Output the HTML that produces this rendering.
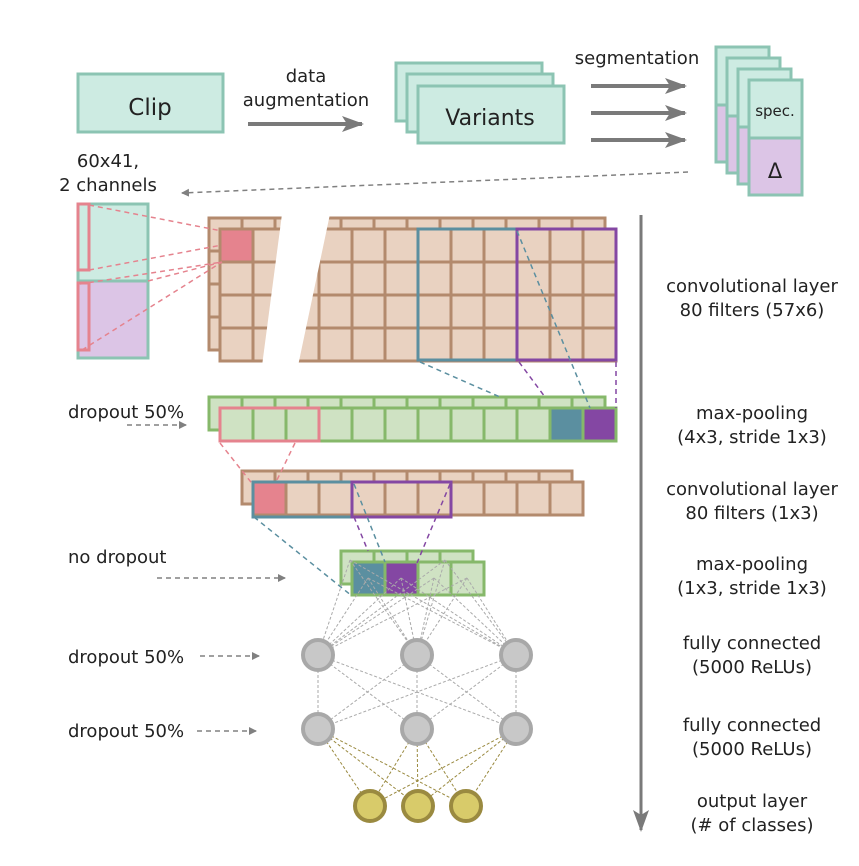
<!DOCTYPE html>
<html><head><meta charset="utf-8"><style>
html,body{margin:0;padding:0;background:#fff;}
svg{display:block;font-family:"DejaVu Sans","Liberation Sans",sans-serif;}
</style></head><body>
<svg id="s" width="859" height="866" viewBox="0 0 859 866" xmlns="http://www.w3.org/2000/svg">
<defs>
<marker id="ah" markerWidth="8" markerHeight="8" refX="7" refY="4" orient="auto" markerUnits="userSpaceOnUse"><path d="M0,0 L8,4 L0,8 z" fill="#808080"/></marker>
<marker id="ahb" markerWidth="22" markerHeight="16" refX="20" refY="8" orient="auto" markerUnits="userSpaceOnUse"><path d="M0,0 L22,8 L0,16 L5,8 z" fill="#7a7a7a"/></marker>
</defs>
<g id="g"></g>
<g fill="#222" font-size="18" text-anchor="middle">
<text x="150" y="115" font-size="23">Clip</text>
<text x="306" y="82">data</text>
<text x="306" y="106">augmentation</text>
<text x="490" y="125" font-size="22">Variants</text>
<text x="637" y="64">segmentation</text>
<text x="775" y="116" font-size="15">spec.</text>
<text x="775" y="178" font-size="21">Δ</text>
<text x="108" y="167">60x41,</text>
<text x="108" y="191">2 channels</text>
<text x="752" y="292">convolutional layer</text>
<text x="752" y="316">80 filters (57x6)</text>
<text x="752" y="419">max-pooling</text>
<text x="752" y="443">(4x3, stride 1x3)</text>
<text x="752" y="495">convolutional layer</text>
<text x="752" y="519">80 filters (1x3)</text>
<text x="752" y="570">max-pooling</text>
<text x="752" y="594">(1x3, stride 1x3)</text>
<text x="752" y="649">fully connected</text>
<text x="752" y="673">(5000 ReLUs)</text>
<text x="752" y="731">fully connected</text>
<text x="752" y="755">(5000 ReLUs)</text>
<text x="752" y="807">output layer</text>
<text x="752" y="831">(# of classes)</text>
</g>
<g fill="#222" font-size="18">
<text x="68" y="418">dropout 50%</text>
<text x="68" y="563">no dropout</text>
<text x="68" y="663">dropout 50%</text>
<text x="68" y="737">dropout 50%</text>
</g>
</svg>
<script>
var g=document.getElementById('g'),h='';
function R(x,y,w,hh,f,s,sw){h+='<rect x="'+x+'" y="'+y+'" width="'+w+'" height="'+hh+'" fill="'+f+'" stroke="'+s+'" stroke-width="'+(sw||3)+'"/>';}
function L(a,b,c,d,s,sw,da,m){h+='<line x1="'+a+'" y1="'+b+'" x2="'+c+'" y2="'+d+'" stroke="'+s+'" stroke-width="'+(sw||1.5)+'"'+(da?' stroke-dasharray="'+da+'"':'')+(m?' marker-end="url(#'+m+')"':'')+'/>';}
function C(x,y,f,s){h+='<circle cx="'+x+'" cy="'+y+'" r="15" fill="'+f+'" stroke="'+s+'" stroke-width="4"/>';}
var T='#cdebe2',TS='#8cc4b3',P='#dcc5e6',BR='#e9d2c1',BS='#b38a6d',GF='#cfe2c3',GS='#86b86a',PK='#e5838e',TL='#5b8fa0',PU='#8447a3';
R(78,74,145,58,T,TS);
L(248,124,362,124,'#7a7a7a',4,null,'ahb');
R(396,63,146,58,T,TS);R(407,74,146,58,T,TS);R(418,86,146,57,T,TS);
[86,113,140].forEach(function(y){L(591,y,685,y,'#7a7a7a',4,null,'ahb');});
for(var i=0;i<4;i++){var x=716+i*11,y=47+i*11;R(x,y,53,58,T,TS);R(x,y+58,53,57,P,TS);}
L(688,172,182,193,'#808080',1.5,'5,4','ah');
R(78,204,70,77,T,TS);R(78,281,70,77,P,TS);
R(78,204,11,66,'none',PK);R(78,283,11,67,'none',PK);
function grid(x0,y0,cols,rows,f,s){for(var r=0;r<rows;r++)for(var c=0;c<cols;c++)R(x0+c*33,y0+r*33,33,33,f,s);}
grid(209,218,12,4,BR,BS);grid(220,229,12,4,BR,BS);
R(220,229,33,33,PK,BS);
h+='<polygon points="282,214 330,214 298,366 262,366" fill="#fff"/>';
R(418,229,99,131,'none',TL);R(517,229,99,131,'none',PU);
L(89,205,222,231,PK,1.5,'5,4');L(89,270,222,245,PK,1.5,'5,4');L(80,284,222,262,PK,1.5,'5,4');L(82,350,222,262,PK,1.5,'5,4');L(148,281,222,262,PK,1.5,'5,4');
grid(209,397,12,1,GF,GS);grid(220,408,12,1,GF,GS);
R(550,408,33,33,TL,GS);R(583,408,33,33,PU,GS);
R(220,408,99,33,'none',PK);
L(420,362,500,397,TL,1.5,'5,4');L(517,231,590,408,TL,1.5,'5,4');
L(519,362,545,397,PU,1.5,'5,4');L(616,362,616,408,PU,1.5,'5,4');
grid(242,471,10,1,BR,BS);grid(253,482,10,1,BR,BS);
R(253,482,33,33,PK,BS);
L(220,443,254,486,PK,1.5,'5,4');L(295,443,276,482,PK,1.5,'5,4');
R(253,482,99,35,'none',TL);R(352,482,99,35,'none',PU);
grid(341,551,4,1,GF,GS);grid(352,562,4,1,GF,GS);
R(352,562,33,33,TL,GS);R(385,562,33,33,PU,GS);
L(254,517,352,596,TL,1.5,'5,4');L(354,484,385,562,TL,1.5,'5,4');
L(354,517,368,551,PU,1.5,'5,4');L(450,484,417,563,PU,1.5,'5,4');
L(127,425,186,425,'#808080',1.5,'5,4','ah');L(157,578,285,578,'#808080',1.5,'5,4','ah');
L(200,656,259,656,'#808080',1.5,'5,4','ah');L(197,731,256,731,'#808080',1.5,'5,4','ah');
L(641,215,641,830,'#7a7a7a',3,null,'ahb');
var p=[[368,578],[401,578],[434,578],[467,578],[350,560],[445,560]],l1=[318,417,516],l2=l1,o=[370,418,466];
p.forEach(function(a){l1.forEach(function(x){L(a[0],a[1],x,655,'#aaa',1,'3,2');});});
l1.forEach(function(a){l2.forEach(function(b){L(a,655,b,729,'#aaa',1,'3,2');});});
l2.forEach(function(a){o.forEach(function(b){L(a,729,b,806,'#9a8a40',1,'3,2');});});
l1.forEach(function(x){C(x,655,'#c8c8c8','#a8a8a8');C(x,729,'#c8c8c8','#a8a8a8');});
o.forEach(function(x){C(x,806,'#d8cb6a','#9a8a40');});
g.innerHTML=h;
</script>
</body></html>
